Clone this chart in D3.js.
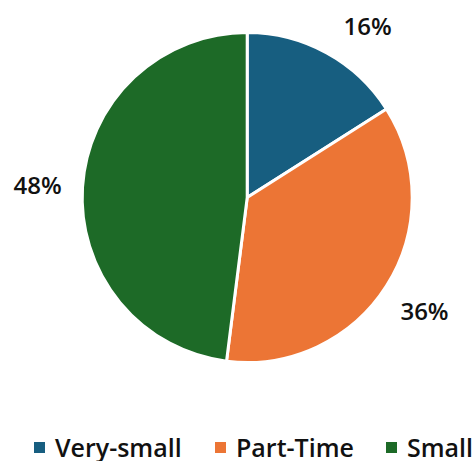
<!DOCTYPE html>
<html>
<head>
<meta charset="utf-8">
<script src="https://cdn.jsdelivr.net/npm/d3@7"></script>
<style>
  html, body { margin: 0; padding: 0; background: #fff; }
  svg { display: block; font-family: "Open Sans", "Noto Sans", sans-serif; }
</style>
</head>
<body>
<svg id="chart" width="474" height="461"></svg>
<script>
// Share of each employment group
const categories = ["Very-small", "Part-Time", "Small"];
const shares = [16, 36, 48];
const colors = ["#175e80", "#ec7535", "#1d6a27"];

const width = 474, height = 461;
const cx = 247.2, cy = 197.5, radius = 165;
const labelRadius = 210;
const labelMinY = 25.5;

const svg = d3.select("#chart");

const pie = d3.pie().sort(null).value(d => d.value);
const arcs = pie(categories.map((c, i) => ({ name: c, value: shares[i], color: colors[i] })));
const arc = d3.arc().innerRadius(0).outerRadius(radius);

const g = svg.append("g").attr("transform", `translate(${cx},${cy})`);

g.selectAll("path.slice")
  .data(arcs)
  .join("path")
  .attr("class", "slice")
  .attr("d", arc)
  .attr("fill", d => d.data.color)
  .attr("stroke", "#fff")
  .attr("stroke-width", 3)
  .attr("stroke-linejoin", "miter");

// Percentage labels outside the pie, kept inside the top edge of the chart
g.selectAll("text.pct")
  .data(arcs)
  .join("text")
  .attr("class", "pct")
  .each(function (d) {
    const a = (d.startAngle + d.endAngle) / 2;
    let x = labelRadius * Math.sin(a);
    let y = -labelRadius * Math.cos(a);
    if (cy + y < labelMinY) {
      y = labelMinY - cy;
      x = Math.sign(Math.sin(a)) * Math.sqrt(labelRadius * labelRadius - y * y);
    }
    d3.select(this).attr("x", x).attr("y", y);
  })
  .attr("text-anchor", "middle")
  .attr("dominant-baseline", "central")
  .attr("font-size", 24)
  .attr("font-weight", 600)
  .attr("fill", "#111")
  .text(d => d.data.value + "%");

// Legend along the bottom
const legendX = [34, 215, 386];
const legend = svg.append("g").selectAll("g.item")
  .data(arcs)
  .join("g")
  .attr("class", "item")
  .attr("transform", (d, i) => `translate(${legendX[i]},442)`);

legend.append("rect")
  .attr("width", 11)
  .attr("height", 11)
  .attr("fill", d => d.data.color);

legend.append("text")
  .attr("x", 21)
  .attr("y", 14.5)
  .attr("font-size", 25)
  .attr("font-weight", 600)
  .attr("fill", "#111")
  .text(d => d.data.name);
</script>
</body>
</html>
